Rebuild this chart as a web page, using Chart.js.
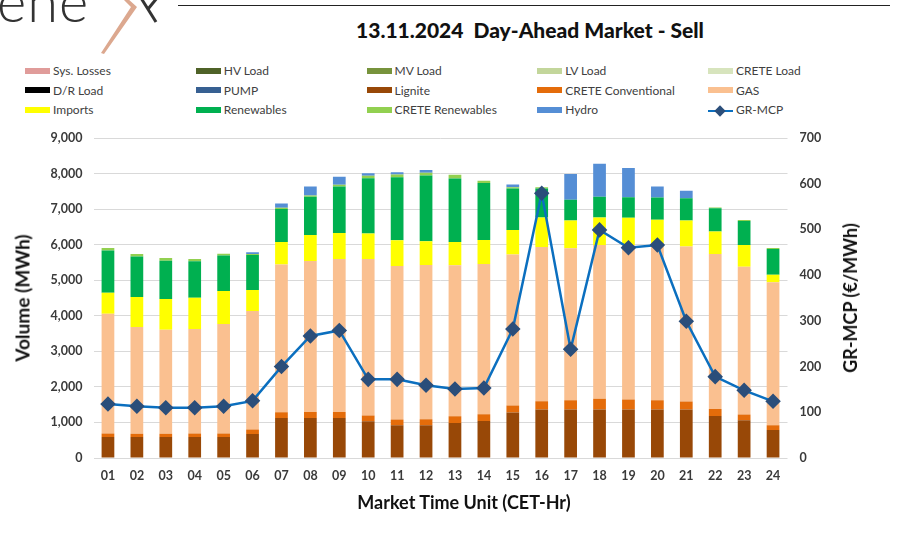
<!DOCTYPE html>
<html lang="en">
<head>
  <meta charset="UTF-8">
  <title>Day-Ahead Market - Sell</title>
  <script src="https://cdn.jsdelivr.net/npm/chart.js"></script>
  <style>
    body { margin: 0; background: #fff; font-family: Lato, "DejaVu Sans", sans-serif; }
    #page { position: relative; width: 918px; height: 538px; overflow: hidden; }
    #chartBox { position: absolute; left: 0; top: 0; width: 918px; height: 538px; }
    .topline { position: absolute; left: 178px; top: 5px; width: 712px; height: 1px; background: #222; }
    .title { position: absolute; left: 0; width: 1060px; top: 17px; text-align: center; font-weight: 900; font-size: 21px; color: #111; }
    .logo { position: absolute; left: 0; top: 0; }
    #legend { position: absolute; left: 0; top: 64px; width: 918px; height: 60px; }
    .lg { position: absolute; height: 14px; font-size: 12px; color: #404040; white-space: nowrap; line-height: 14px; }
    .lg .sw { display: inline-block; width: 25px; height: 6px; vertical-align: middle; margin-right: 3px; position: relative; top: -1px; }
    .axt { position: absolute; font-weight: bold; font-size: 18px; color: #111; white-space: nowrap; }
  </style>
</head>
<body>
<div id="page">
  <svg class="logo" width="170" height="60">
    <text x="-3" y="22" font-family="Lato, sans-serif" font-weight="300" font-size="56" letter-spacing="1" fill="#333">ene</text>
    <path d="M141 -2 L156 22" stroke="#333" stroke-width="3" fill="none"/>
    <path d="M157 -2 L148 9" stroke="#333" stroke-width="3" fill="none"/>
    <path d="M127 -2 L137 7 L104 54 L101 53 L131 7 L122 -2 Z" fill="#dca88f"/>
  </svg>
  <div class="topline"></div>
  <div class="title">13.11.2024&nbsp;&nbsp;Day-Ahead Market - Sell</div>
  <div id="legend"></div>
  <div id="chartBox"><canvas id="mktChart" width="918" height="538"></canvas></div>
  <div class="axt" style="left:22px; top:298px; font-size:19px; transform: translate(-50%,-50%) rotate(-90deg);">Volume (MWh)</div>
  <div class="axt" style="left:850px; top:298px; transform: translate(-50%,-50%) rotate(-90deg);">GR-MCP (€/MWh)</div>
  <div class="axt" style="left:464px; top:502px; transform: translate(-50%,-50%);">Market Time Unit (CET-Hr)</div>
</div>

<script>
  // Market time units
  const hours = ['01','02','03','04','05','06','07','08','09','10','11','12',
                 '13','14','15','16','17','18','19','20','21','22','23','24'];

  // Sell volumes per source (MWh)
  const lignite    = [592, 590, 590, 590, 590, 676, 1127, 1127, 1127, 1033, 921, 921, 987, 1043, 1278, 1363, 1363, 1363, 1363, 1363, 1363, 1184, 1062, 789];
  const creteConv  = [95, 90, 90, 97, 97, 124, 161, 170, 170, 160, 160, 169, 188, 188, 197, 235, 263, 300, 282, 263, 226, 197, 160, 132];
  const gas        = [3371, 3003, 2927, 2939, 3080, 3333, 4151, 4245, 4301, 4405, 4320, 4339, 4245, 4227, 4245, 4339, 4274, 4330, 4348, 4348, 4357, 4359, 4160, 4020];
  const imports    = [592, 845, 865, 883, 930, 592, 639, 733, 733, 714, 724, 668, 658, 676, 696, 826, 778, 770, 761, 724, 732, 628, 611, 216];
  const renewables = [1183, 1136, 1079, 1024, 995, 986, 922, 1071, 1305, 1559, 1774, 1849, 1784, 1597, 1164, 817, 583, 583, 582, 628, 630, 659, 676, 723];
  const creteRen   = [76, 76, 76, 66, 56, 30, 36, 37, 47, 66, 76, 75, 104, 66, 38, 38, 0, 0, 0, 0, 0, 19, 28, 29];
  const hydro      = [0, 0, 0, 0, 0, 46, 121, 253, 226, 75, 65, 76, 0, 0, 75, 0, 724, 929, 818, 310, 207, 0, 0, 0];

  // Greek market clearing price (€/MWh)
  const grMcp = [118, 113, 110, 110, 113, 125, 200, 267, 279, 172, 172, 159, 151, 153, 282, 579, 238, 499, 460, 466, 299, 178, 148, 124];

  // Axis ticks
  const volumeTicks = [0, 1000, 2000, 3000, 4000, 5000, 6000, 7000, 8000, 9000];
  const priceTicks = [0, 100, 200, 300, 400, 500, 600, 700];

  // Legend order (5 columns, row by row); empty series only show in the legend
  const series = [
    { label: 'Sys. Losses',        color: '#e09c9a', data: [] },
    { label: 'HV Load',            color: '#4f6228', data: [] },
    { label: 'MV Load',            color: '#77933c', data: [] },
    { label: 'LV Load',            color: '#c3d69b', data: [] },
    { label: 'CRETE Load',         color: '#d7e4bd', data: [] },
    { label: 'D/R Load',           color: '#000000', data: [] },
    { label: 'PUMP',               color: '#376092', data: [] },
    { label: 'Lignite',            color: '#984807', data: lignite },
    { label: 'CRETE Conventional', color: '#e46c0a', data: creteConv },
    { label: 'GAS',                color: '#fac090', data: gas },
    { label: 'Imports',            color: '#ffff00', data: imports },
    { label: 'Renewables',         color: '#00b050', data: renewables },
    { label: 'CRETE Renewables',   color: '#92d050', data: creteRen },
    { label: 'Hydro',              color: '#558ed5', data: hydro },
  ];

  const tickFont = { family: 'Lato, "DejaVu Sans", sans-serif', size: 12.5, weight: 'bold' };

  const datasets = series.map(s => ({
    type: 'bar',
    label: s.label,
    data: s.data,
    backgroundColor: s.color,
    borderWidth: 0,
    yAxisID: 'y',
    stack: 'sell',
    order: 1,
    categoryPercentage: 0.44,
    barPercentage: 1,
  }));

  datasets.push({
    type: 'line',
    label: 'GR-MCP',
    data: grMcp,
    yAxisID: 'y2',
    borderColor: '#0b6fbf',
    borderWidth: 2.5,
    pointStyle: 'rectRot',
    pointRadius: 6,
    pointBackgroundColor: '#2b4e7a',
    pointBorderColor: '#2b4e7a',
    tension: 0,
    order: 0,
  });

  const ctx = document.getElementById('mktChart').getContext('2d');
  const chart = new Chart(ctx, {
    data: { labels: hours, datasets: datasets },
    options: {
      responsive: false,
      animation: false,
      maintainAspectRatio: false,
      devicePixelRatio: 1,
      layout: { padding: { top: 138, left: 0, right: 0, bottom: 0 } },
      plugins: { legend: { display: false }, tooltip: { enabled: false } },
      scales: {
        x: {
          stacked: true,
          grid: { display: false },
          border: { display: false },
          ticks: { font: tickFont, color: '#3a3a3a', padding: 2 },
          afterFit: s => { s.height = 80; },
        },
        y: {
          stacked: true,
          position: 'left',
          min: 0, max: 9000,
          afterBuildTicks: s => { s.ticks = volumeTicks.map(v => ({ value: v })); },
          ticks: { font: tickFont, color: '#3a3a3a', padding: 11, callback: v => v.toLocaleString('en-US') },
          grid: { color: '#d9d9d9', lineWidth: 1, drawTicks: false },
          border: { display: false },
          afterFit: s => { s.width = 93.5; },
        },
        y2: {
          position: 'right',
          min: 0, max: 700,
          afterBuildTicks: s => { s.ticks = priceTicks.map(v => ({ value: v })); },
          ticks: { font: tickFont, color: '#3a3a3a', padding: 12 },
          grid: { display: false, drawTicks: false },
          border: { display: false },
          afterFit: s => { s.width = 130.5; },
        },
      },
    },
  });

  // HTML legend in a 5-column grid
  const legendEl = document.getElementById('legend');
  const items = series.map(s => ({ label: s.label, color: s.color, line: false }));
  items.push({ label: 'GR-MCP', line: true });
  items.forEach((it, i) => {
    const col = i % 5, row = Math.floor(i / 5);
    const div = document.createElement('div');
    div.className = 'lg';
    div.style.left = (25 + col * 170.75) + 'px';
    div.style.top = (row * 19.5) + 'px';
    if (it.line) {
      div.innerHTML = '<span class="sw" style="height:14px;position:relative;top:0;">' +
        '<span style="position:absolute;left:0;top:6px;width:25px;height:2.5px;background:#0b6fbf"></span>' +
        '<span style="position:absolute;left:8px;top:3px;width:8px;height:8px;background:#2b4e7a;transform:rotate(45deg)"></span>' +
        '</span>' + it.label;
    } else {
      div.innerHTML = '<span class="sw" style="background:' + it.color + '"></span>' + it.label;
    }
    legendEl.appendChild(div);
  });
</script>
</body>
</html>
